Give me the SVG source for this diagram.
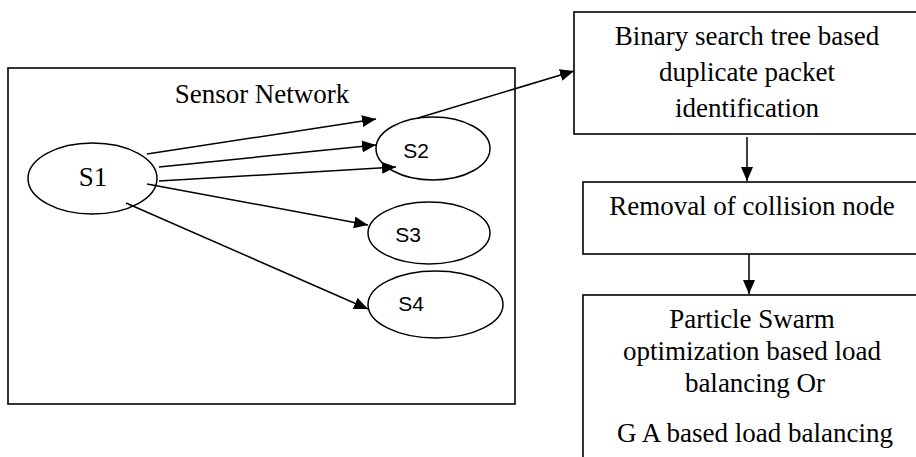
<svg xmlns="http://www.w3.org/2000/svg" width="916" height="457" viewBox="0 0 916 457">
<style>
.box{fill:#fff;stroke:#000;stroke-width:1.6}
.ell{fill:#fff;stroke:#000;stroke-width:1.5}
.serif{font-family:"Liberation Serif","Times New Roman",serif;font-size:27px;fill:#000;text-anchor:middle}
.sans{font-family:"Liberation Sans",Arial,sans-serif;font-size:21px;fill:#000;text-anchor:middle}
.conn line{stroke:#000;stroke-width:1.5;marker-end:url(#ah)}
</style>
<defs>
<marker id="ah" markerUnits="userSpaceOnUse" markerWidth="15" markerHeight="12" refX="14" refY="6" orient="auto">
<path d="M0,0 L14,6 L0,12 z" fill="#000"/>
</marker>
</defs>
<rect width="916" height="457" fill="#fff"/>
<g id="sensor-network">
<rect class="box" x="8" y="68" width="507" height="336"/>
<text class="serif" x="262" y="103">Sensor Network</text>
</g>
<g id="s1">
<ellipse class="ell" cx="92.5" cy="178.5" rx="64.5" ry="35.5"/>
<text class="serif" x="93" y="186">S1</text>
</g>
<g id="s2">
<ellipse class="ell" cx="433" cy="148.5" rx="57" ry="31.5"/>
<text class="sans" x="416" y="158">S2</text>
</g>
<g id="s3">
<ellipse class="ell" cx="429" cy="233" rx="61" ry="31"/>
<text class="sans" x="408" y="242">S3</text>
</g>
<g id="s4">
<ellipse class="ell" cx="435.5" cy="304.5" rx="67.5" ry="33.5"/>
<text class="sans" x="411" y="311">S4</text>
</g>
<g id="bst">
<rect class="box" x="574" y="12" width="345" height="122"/>
<text class="serif" x="747" y="45">Binary search tree based</text>
<text class="serif" x="747" y="81">duplicate packet</text>
<text class="serif" x="747" y="117">identification</text>
</g>
<g id="removal">
<rect class="box" x="583" y="182" width="336" height="72"/>
<text class="serif" x="752" y="215">Removal of collision node</text>
</g>
<g id="pso">
<rect class="box" x="583" y="295" width="336" height="170"/>
<text class="serif" x="752" y="328">Particle Swarm</text>
<text class="serif" x="752" y="360">optimization based load</text>
<text class="serif" x="755" y="392">balancing Or</text>
<text class="serif" x="755" y="442">G A based load balancing</text>
</g>
<g id="connectors" class="conn">
<line x1="147" y1="154" x2="376" y2="119"/>
<line x1="159" y1="167" x2="376" y2="145"/>
<line x1="159" y1="181" x2="396" y2="167"/>
<line x1="147" y1="184" x2="368" y2="225"/>
<line x1="126" y1="203" x2="368" y2="309"/>
<line x1="418" y1="118" x2="574" y2="71"/>
<line x1="747" y1="137" x2="747" y2="181"/>
<line x1="749" y1="254" x2="749" y2="294"/>
</g>
</svg>
